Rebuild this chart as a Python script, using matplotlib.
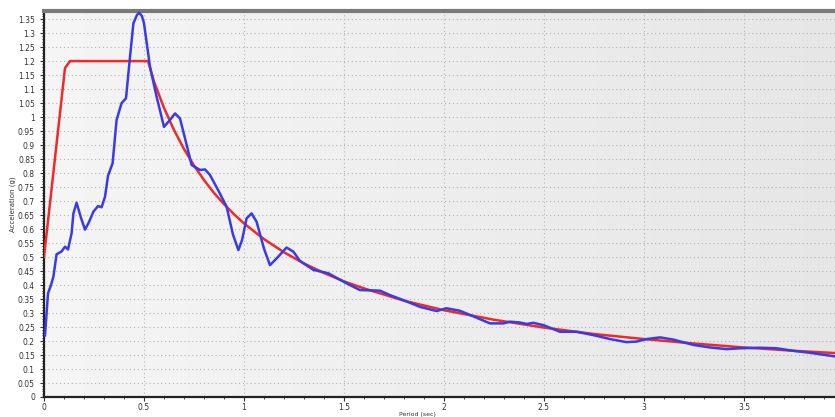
import numpy as np
import matplotlib.pyplot as plt
from matplotlib.ticker import MultipleLocator

# design spectrum (red)
design_T = [0.0, 0.105, 0.13, 0.52, 0.55, 0.6, 0.65, 0.7, 0.75, 0.8, 0.85, 0.9, 0.95,
            1.0, 1.1, 1.2, 1.3, 1.4, 1.5, 1.6, 1.8, 2.0, 2.25, 2.5, 2.75, 3.0,
            3.25, 3.5, 3.75, 3.955]
design_A = [0.5, 1.175, 1.2, 1.2, 1.127, 1.033, 0.954, 0.886, 0.827, 0.775, 0.729, 0.689, 0.653,
            0.62, 0.564, 0.517, 0.477, 0.443, 0.413, 0.388, 0.344, 0.31, 0.276, 0.248, 0.225, 0.207,
            0.191, 0.177, 0.165, 0.157]

# matched record spectrum (blue)
record_T = [0.005, 0.02, 0.035, 0.047, 0.063, 0.088, 0.105, 0.12, 0.138, 0.147, 0.163, 0.185,
            0.205, 0.225, 0.247, 0.27, 0.288, 0.305, 0.32, 0.343, 0.363, 0.388, 0.41, 0.43,
            0.447, 0.465, 0.477, 0.49, 0.5, 0.53, 0.563, 0.6, 0.63, 0.655, 0.68, 0.71, 0.738,
            0.78, 0.805, 0.83, 0.87, 0.913, 0.945, 0.972, 0.99, 1.013, 1.038, 1.063, 1.1, 1.13,
            1.163, 1.213, 1.247, 1.28, 1.347, 1.422, 1.513, 1.58, 1.68, 1.73, 1.797, 1.88,
            1.963, 2.013, 2.08, 2.13, 2.23, 2.297, 2.33, 2.38, 2.413, 2.447, 2.5, 2.58, 2.663,
            2.747, 2.83, 2.913, 2.963, 3.013, 3.08, 3.147, 3.247, 3.33, 3.413, 3.48, 3.58,
            3.663, 3.747, 3.83, 3.955]
record_A = [0.22, 0.37, 0.40, 0.43, 0.51, 0.52, 0.537, 0.527, 0.585, 0.656, 0.694, 0.64,
            0.598, 0.625, 0.662, 0.682, 0.678, 0.715, 0.79, 0.835, 0.99, 1.05, 1.067, 1.215,
            1.335, 1.365, 1.373, 1.36, 1.335, 1.18, 1.073, 0.965, 0.99, 1.013, 0.995, 0.91, 0.829,
            0.811, 0.813, 0.793, 0.74, 0.68, 0.58, 0.525, 0.56, 0.638, 0.656, 0.626, 0.53, 0.471,
            0.495, 0.534, 0.519, 0.486, 0.454, 0.442, 0.406, 0.382, 0.38, 0.364, 0.346, 0.322,
            0.307, 0.317, 0.308, 0.293, 0.263, 0.263, 0.269, 0.266, 0.261, 0.265, 0.256, 0.233,
            0.233, 0.221, 0.207, 0.196, 0.198, 0.207, 0.213, 0.205, 0.186, 0.177, 0.171, 0.174,
            0.176, 0.174, 0.165, 0.158, 0.145]

x_ticks = [0, 0.5, 1, 1.5, 2, 2.5, 3, 3.5]
x_labels = ["0", "0.5", "1", "1.5", "2", "2.5", "3", "3.5"]

fig = plt.figure(figsize=(8.35, 4.17), dpi=100)
ax = fig.add_axes([44 / 835, 1 - 397 / 417, 1 - 44 / 835, 386 / 417])
ax.set_xlim(0, 3.955)
ax.set_ylim(0, 1.379)

# soft grey gradient behind the plot area
grad = np.linspace(0.96, 0.9, 256).reshape(1, -1)
ax.imshow(grad, extent=[0, 3.955, 0, 1.379], aspect='auto', cmap='gray',
          vmin=0, vmax=1, zorder=0)

ax.xaxis.set_minor_locator(MultipleLocator(0.1))
ax.yaxis.set_major_locator(MultipleLocator(0.05))
ax.yaxis.set_minor_locator(MultipleLocator(0.01))
ax.set_xticks(x_ticks)
ax.set_xticklabels(x_labels)
ax.yaxis.set_major_formatter(plt.FuncFormatter(lambda v, p: f"{v:.2f}".rstrip('0').rstrip('.')))

ax.grid(True, which='major', color='#b4b4b4', linestyle=(0, (1, 2.5)), linewidth=0.8)
ax.tick_params(labelsize=5.5, colors='#333333', length=3, width=0.8)
ax.tick_params(which='minor', length=1.5, width=0.5)
ax.tick_params(axis='x', pad=1.5)

ax.spines['right'].set_visible(False)
ax.spines['left'].set_linewidth(1.6)
ax.spines['bottom'].set_linewidth(1.6)
ax.spines['top'].set_linewidth(3)
ax.spines['top'].set_color('#7a7a7a')
ax.spines['left'].set_color('#222222')
ax.spines['bottom'].set_color('#222222')

ax.plot(design_T, design_A, color='#ee2a2a', lw=1.8, zorder=3)
ax.plot(record_T, record_A, color='#3a3ae6', lw=1.8, zorder=4)

ax.set_ylabel("Acceleration (g)", fontsize=5, color='#333333')
ax.yaxis.set_label_coords(-0.036, 0.5)
fig.text(0.5, 0.0, "Period (sec)", fontsize=4.5, color='#333333', ha='center', va='bottom')

fig.savefig("out.png", dpi=100)
